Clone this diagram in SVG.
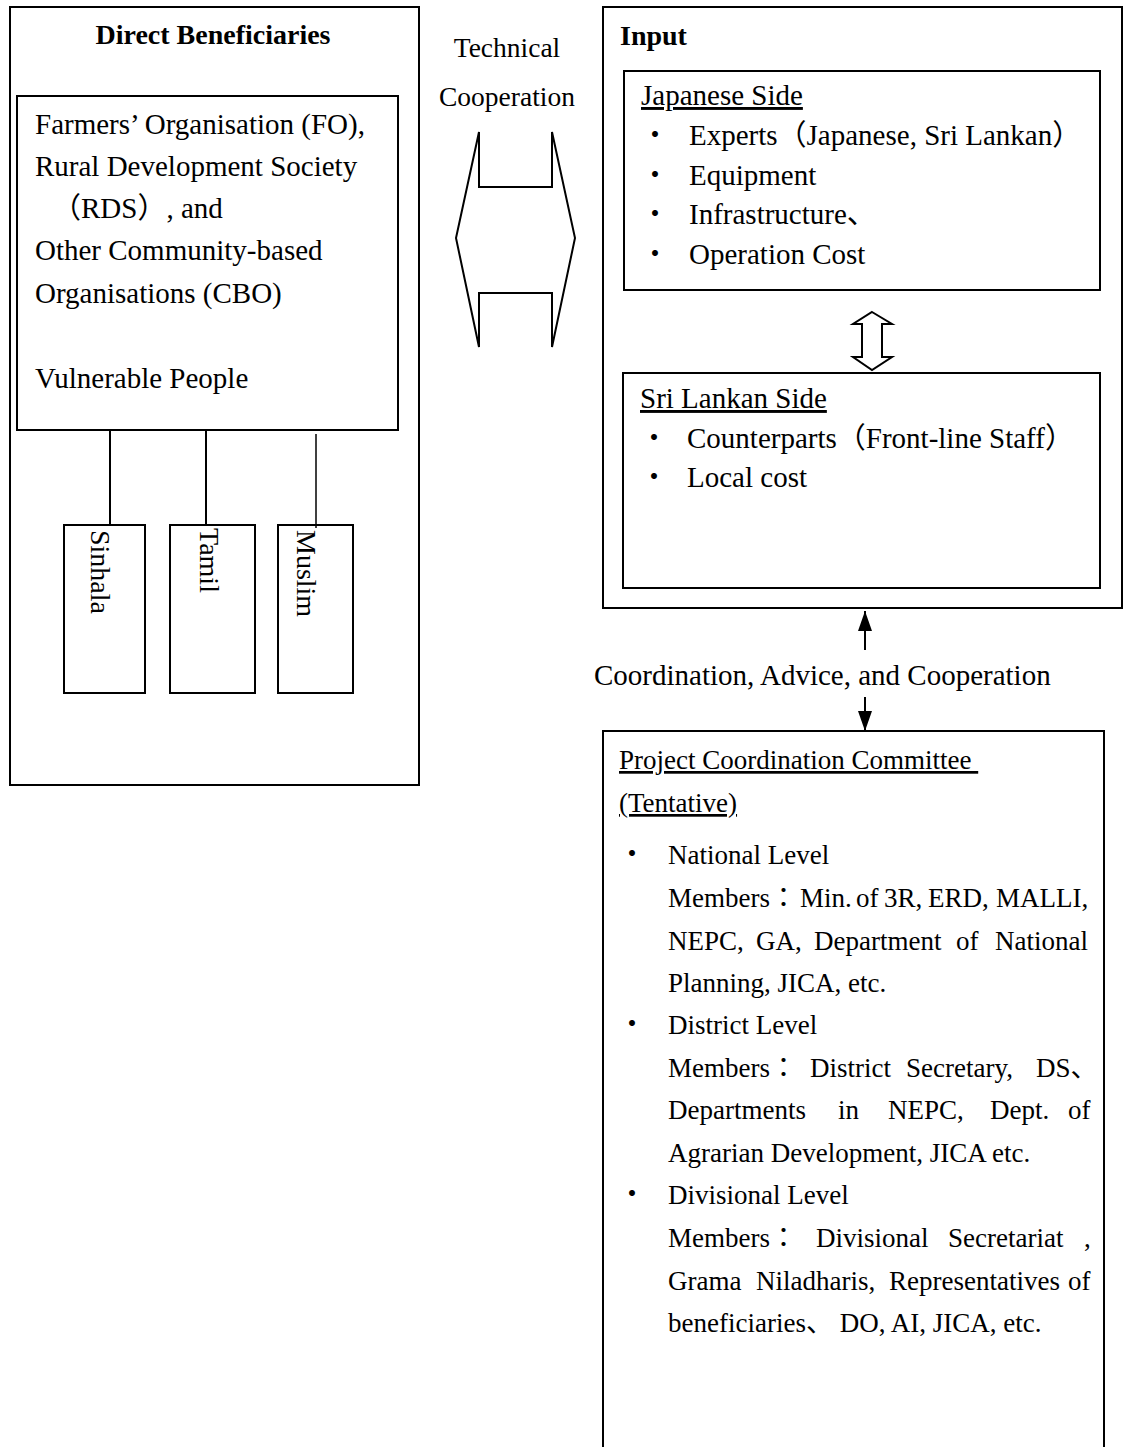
<svg xmlns="http://www.w3.org/2000/svg" width="1123" height="1447" viewBox="0 0 1123 1447">
<style>
  .box{fill:#fff;stroke:#000;stroke-width:2}
  .open{fill:none;stroke:#000;stroke-width:2}
  .t{font-family:"Liberation Serif","Noto Sans CJK JP",serif;font-size:29px;fill:#000}
  .c{font-family:"Liberation Serif","Noto Sans CJK JP",serif;font-size:27px;fill:#000}
  .b{font-family:"Liberation Serif","Noto Sans CJK JP",serif;font-size:28px;font-weight:bold;fill:#000}
  .s{font-family:"Liberation Serif","Noto Sans CJK JP",serif;font-size:27.5px;fill:#000}
  .r{font-family:"Liberation Serif",serif;font-size:28px;fill:#000}
  .bul{font-family:"Noto Sans CJK JP",sans-serif;font-size:28px;fill:#000}
  .u{text-decoration:underline}
  .ln{stroke:#000;stroke-width:2;fill:none}
</style>
<defs>
  <marker id="ah" viewBox="0 0 20 14" markerWidth="20" markerHeight="14" refX="20" refY="7" orient="auto" markerUnits="userSpaceOnUse">
    <path d="M0,0 L20,7 L0,14 Z" fill="#000"/>
  </marker>
</defs>
<rect width="1123" height="1447" fill="#fff"/>

<g id="direct-beneficiaries">
  <rect class="box" x="10" y="7" width="409" height="778"/>
  <text class="b" x="213" y="44" text-anchor="middle">Direct Beneficiaries</text>
</g>

<g id="beneficiary-groups">
  <rect class="box" x="17" y="96" width="381" height="334"/>
  <text class="t" x="35" y="134">Farmers’ Organisation (FO),</text>
  <text class="t" x="35" y="176">Rural Development Society</text>
  <text class="t" x="52" y="218">（RDS）, and</text>
  <text class="t" x="35" y="260">Other Community-based</text>
  <text class="t" x="35" y="303">Organisations (CBO)</text>
  <text class="t" x="35" y="388">Vulnerable People</text>
</g>

<g id="sinhala">
  <rect class="box" x="64" y="525" width="81" height="168"/>
  <text class="r" transform="translate(91,530) rotate(90)">Sinhala</text>
</g>
<g id="tamil">
  <rect class="box" x="170" y="525" width="85" height="168"/>
  <text class="r" transform="translate(200,528) rotate(90)">Tamil</text>
</g>
<g id="muslim">
  <rect class="box" x="278" y="525" width="75" height="168"/>
  <text class="r" transform="translate(297,530) rotate(90)">Muslim</text>
</g>

<g id="technical-cooperation">
  <text class="s" x="507" y="57" text-anchor="middle">Technical</text>
  <text class="s" x="507" y="106" text-anchor="middle">Cooperation</text>
</g>

<g id="input">
  <rect class="box" x="603" y="7" width="519" height="601"/>
  <text class="b" x="620" y="45">Input</text>
</g>

<g id="japanese-side">
  <rect class="box" x="624" y="71" width="476" height="219"/>
  <text class="t u" x="641" y="105">Japanese Side</text>
  <text class="bul" x="641" y="145">・</text>
  <text class="t" x="689" y="145">Experts（Japanese, Sri Lankan）</text>
  <text class="bul" x="641" y="185">・</text>
  <text class="t" x="689" y="185">Equipment</text>
  <text class="bul" x="641" y="224">・</text>
  <text class="t" x="689" y="224">Infrastructure、</text>
  <text class="bul" x="641" y="264">・</text>
  <text class="t" x="689" y="264">Operation Cost</text>
</g>

<g id="sri-lankan-side">
  <rect class="box" x="623" y="373" width="477" height="215"/>
  <text class="t u" x="640" y="408">Sri Lankan Side</text>
  <text class="bul" x="640" y="448">・</text>
  <text class="t" x="687" y="448">Counterparts（Front-line Staff）</text>
  <text class="bul" x="640" y="487">・</text>
  <text class="t" x="687" y="487">Local cost</text>
</g>

<g id="coordination-label">
  <text class="t" x="594" y="685">Coordination, Advice, and Cooperation</text>
</g>

<g id="project-coordination-committee">
  <path class="open" d="M603,1460 L603,731 L1104,731 L1104,1460"/>
  <text class="c u" x="619" y="769">Project Coordination Committee&#160;</text>
  <text class="c u" x="619" y="812">(Tentative)</text>
  <text class="bul" x="618" y="864">・</text>
  <text class="c" x="668" y="864">National Level</text>
  <text class="c" y="907"><tspan x="668">Members：</tspan><tspan x="800">Min.</tspan><tspan x="856">of</tspan><tspan x="884">3R,</tspan><tspan x="928">ERD,</tspan><tspan x="996">MALLI,</tspan></text>
  <text class="c" y="950"><tspan x="668">NEPC,</tspan><tspan x="756">GA,</tspan><tspan x="814">Department</tspan><tspan x="956">of</tspan><tspan x="995">National</tspan></text>
  <text class="c" x="668" y="992">Planning, JICA, etc.</text>
  <text class="bul" x="618" y="1034">・</text>
  <text class="c" x="668" y="1034">District Level</text>
  <text class="c" y="1077"><tspan x="668">Members：</tspan><tspan x="810">District</tspan><tspan x="906">Secretary,</tspan><tspan x="1036">DS、</tspan></text>
  <text class="c" y="1119"><tspan x="668">Departments</tspan><tspan x="838">in</tspan><tspan x="888">NEPC,</tspan><tspan x="990">Dept.</tspan><tspan x="1068">of</tspan></text>
  <text class="c" x="668" y="1162">Agrarian Development, JICA etc.</text>
  <text class="bul" x="618" y="1204">・</text>
  <text class="c" x="668" y="1204">Divisional Level</text>
  <text class="c" y="1247"><tspan x="668">Members：</tspan><tspan x="816">Divisional</tspan><tspan x="948">Secretariat</tspan><tspan x="1084">,</tspan></text>
  <text class="c" y="1290"><tspan x="668">Grama</tspan><tspan x="756">Niladharis,</tspan><tspan x="889">Representatives</tspan><tspan x="1068">of</tspan></text>
  <text class="c" x="668" y="1332">beneficiaries、 DO, AI, JICA, etc.</text>
</g>

<g id="connectors">
  <line class="ln" x1="110" y1="430" x2="110" y2="525"/>
  <line class="ln" x1="206" y1="430" x2="206" y2="525"/>
  <line x1="316" y1="434" x2="316" y2="528" stroke="#000" stroke-width="1.5"/>
  <path class="ln" d="M479,132 L479,187 L552,187 L552,132 L575,238 L552,347 L552,293 L479,293 L479,347 L456,238 Z"/>
  <path class="ln" d="M872,312 L892,324 L882,324 L882,357 L892,357 L872,370 L853,357 L862,357 L862,324 L853,324 Z" fill="#fff"/>
  <line class="ln" x1="865" y1="650" x2="865" y2="611" marker-end="url(#ah)"/>
  <line class="ln" x1="865" y1="697" x2="865" y2="731" marker-end="url(#ah)"/>
</g>
</svg>
